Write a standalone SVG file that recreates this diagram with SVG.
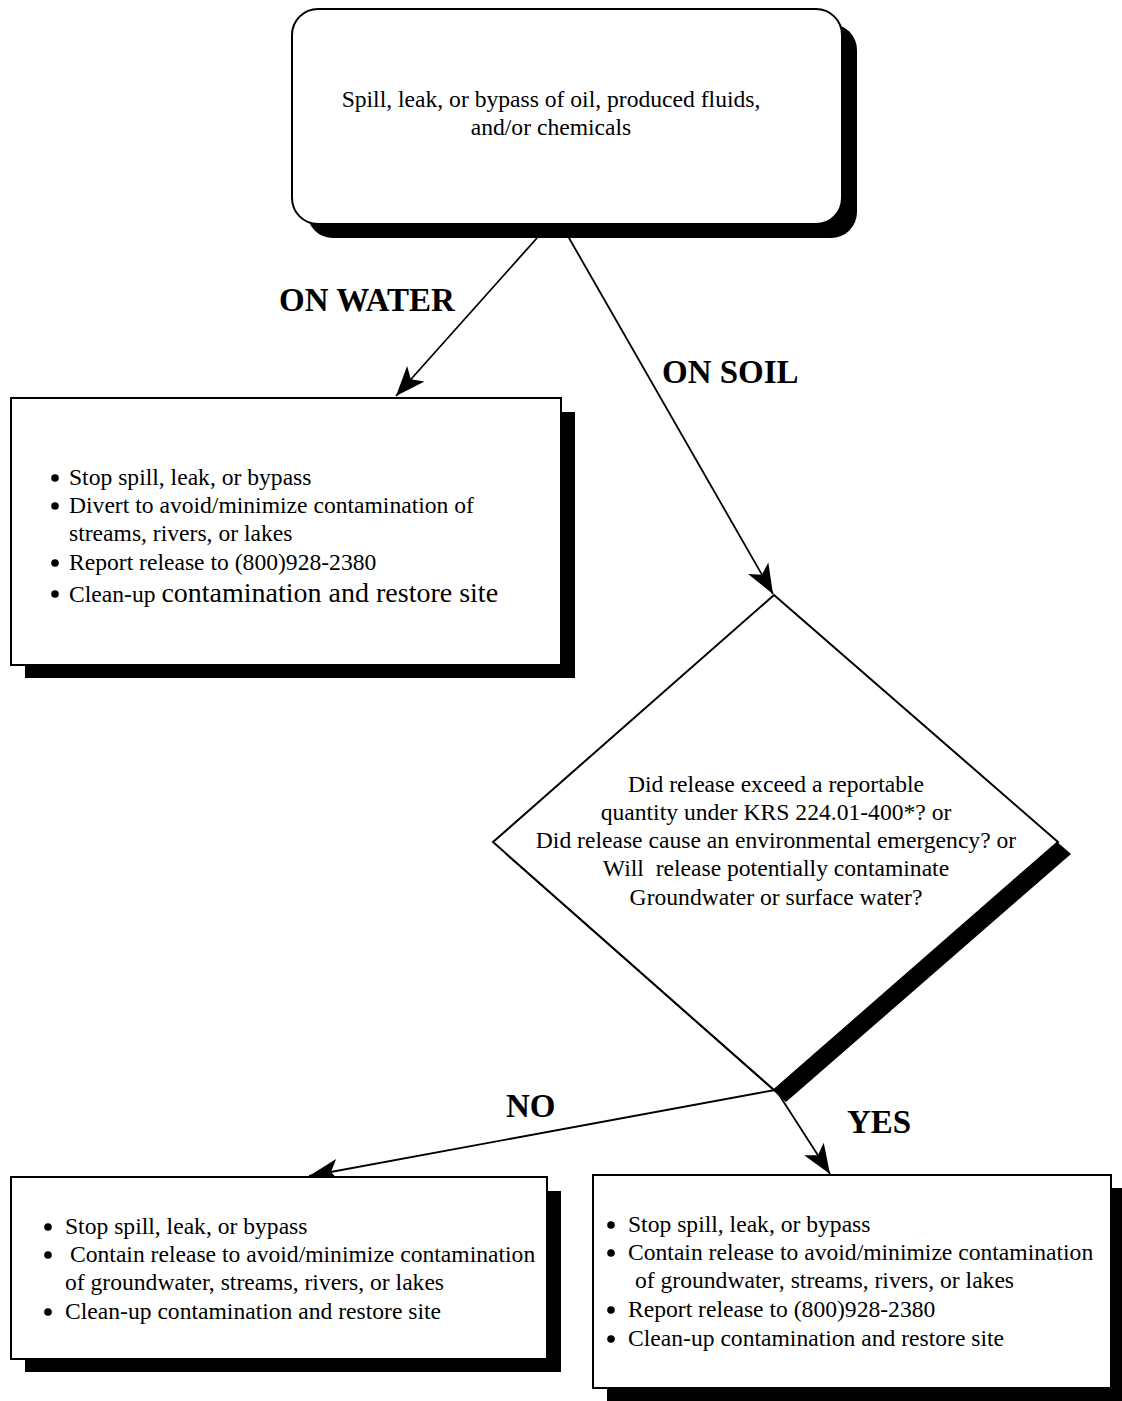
<svg xmlns="http://www.w3.org/2000/svg" width="1122" height="1401" viewBox="0 0 1122 1401">
<style>
.box{fill:#fff;stroke:#000;stroke-width:2}
.sh{fill:#000}
.t{font-family:"Liberation Serif","Times New Roman",serif;font-size:23.6px;fill:#000}
.c{text-anchor:middle}
.lbl{font-family:"Liberation Serif","Times New Roman",serif;font-weight:bold;font-size:33px;fill:#000}
.ln{stroke:#000;stroke-width:1.8;fill:none}
</style>
<defs>
<marker id="ah" markerUnits="userSpaceOnUse" markerWidth="34" markerHeight="30" viewBox="-30 -13 32 26" refX="0" refY="0" orient="auto">
<path d="M0,0 L-28,-11 L-21,0 L-28,11 Z" fill="#000"/>
</marker>
<circle id="b" r="3.8" fill="#000"/>
</defs>
<rect width="1122" height="1401" fill="#fff"/>

<g id="connectors">
<line class="ln" x1="537" y1="238" x2="396" y2="396" marker-end="url(#ah)"/>
<line class="ln" x1="569" y1="238" x2="773" y2="594" marker-end="url(#ah)"/>
<line class="ln" x1="775" y1="1090" x2="309" y2="1176" marker-end="url(#ah)"/>
<line class="ln" x1="776" y1="1090" x2="830" y2="1174" marker-end="url(#ah)"/>
<text class="lbl" x="279" y="311" font-size="34">ON WATER</text>
<text class="lbl" x="662" y="383">ON SOIL</text>
<text class="lbl" x="506" y="1117" font-size="31">NO</text>
<text class="lbl" x="847" y="1133">YES</text>
</g>

<g id="start">
<rect class="sh" x="307" y="24" width="550" height="214" rx="26"/>
<rect class="box" x="292" y="9" width="550" height="215" rx="26"/>
<text class="t c" x="551" y="107">Spill, leak, or bypass of oil, produced fluids,</text>
<text class="t c" x="551" y="135">and/or chemicals</text>
</g>

<g id="water">
<rect class="sh" x="25" y="412" width="550" height="266"/>
<rect class="box" x="11" y="398" width="550" height="267"/>
<use href="#b" x="55" y="478"/>
<use href="#b" x="55" y="506"/>
<use href="#b" x="55" y="563"/>
<use href="#b" x="55" y="594"/>
<text class="t" x="69" y="485">Stop spill, leak, or bypass</text>
<text class="t" x="69" y="513">Divert to avoid/minimize contamination of</text>
<text class="t" x="69" y="541">streams, rivers, or lakes</text>
<text class="t" x="69" y="570">Report release to (800)928-2380</text>
<text class="t" x="69" y="602">Clean-up <tspan font-size="28">contamination and restore site</tspan></text>
</g>

<g id="decision">
<polygon class="sh" points="786,607 1071,854 786,1102 505,854"/>
<polygon class="box" points="774,595 1058,842 774,1090 493,842"/>
<text class="t c" x="776" y="792">Did release exceed a reportable</text>
<text class="t c" x="776" y="820">quantity under KRS 224.01-400*? or</text>
<text class="t c" x="776" y="848">Did release cause an environmental emergency? or</text>
<text class="t c" x="776" y="876" xml:space="preserve">Will  release potentially contaminate</text>
<text class="t c" x="776" y="905">Groundwater or surface water?</text>
</g>

<g id="no-box">
<rect class="sh" x="25" y="1191" width="536" height="181"/>
<rect class="box" x="11" y="1177" width="536" height="182"/>
<use href="#b" x="48" y="1227"/>
<use href="#b" x="48" y="1255"/>
<use href="#b" x="48" y="1312"/>
<text class="t" x="65" y="1234">Stop spill, leak, or bypass</text>
<text class="t" x="70" y="1262">Contain release to avoid/minimize contamination</text>
<text class="t" x="65" y="1290">of groundwater, streams, rivers, or lakes</text>
<text class="t" x="65" y="1319">Clean-up contamination and restore site</text>
</g>

<g id="yes-box">
<rect class="sh" x="607" y="1188" width="520" height="213"/>
<rect class="box" x="593" y="1175" width="518" height="213"/>
<use href="#b" x="611" y="1225"/>
<use href="#b" x="611" y="1253"/>
<use href="#b" x="611" y="1310"/>
<use href="#b" x="611" y="1339"/>
<text class="t" x="628" y="1232">Stop spill, leak, or bypass</text>
<text class="t" x="628" y="1260">Contain release to avoid/minimize contamination</text>
<text class="t" x="635" y="1288">of groundwater, streams, rivers, or lakes</text>
<text class="t" x="628" y="1317">Report release to (800)928-2380</text>
<text class="t" x="628" y="1346">Clean-up contamination and restore site</text>
</g>
</svg>
